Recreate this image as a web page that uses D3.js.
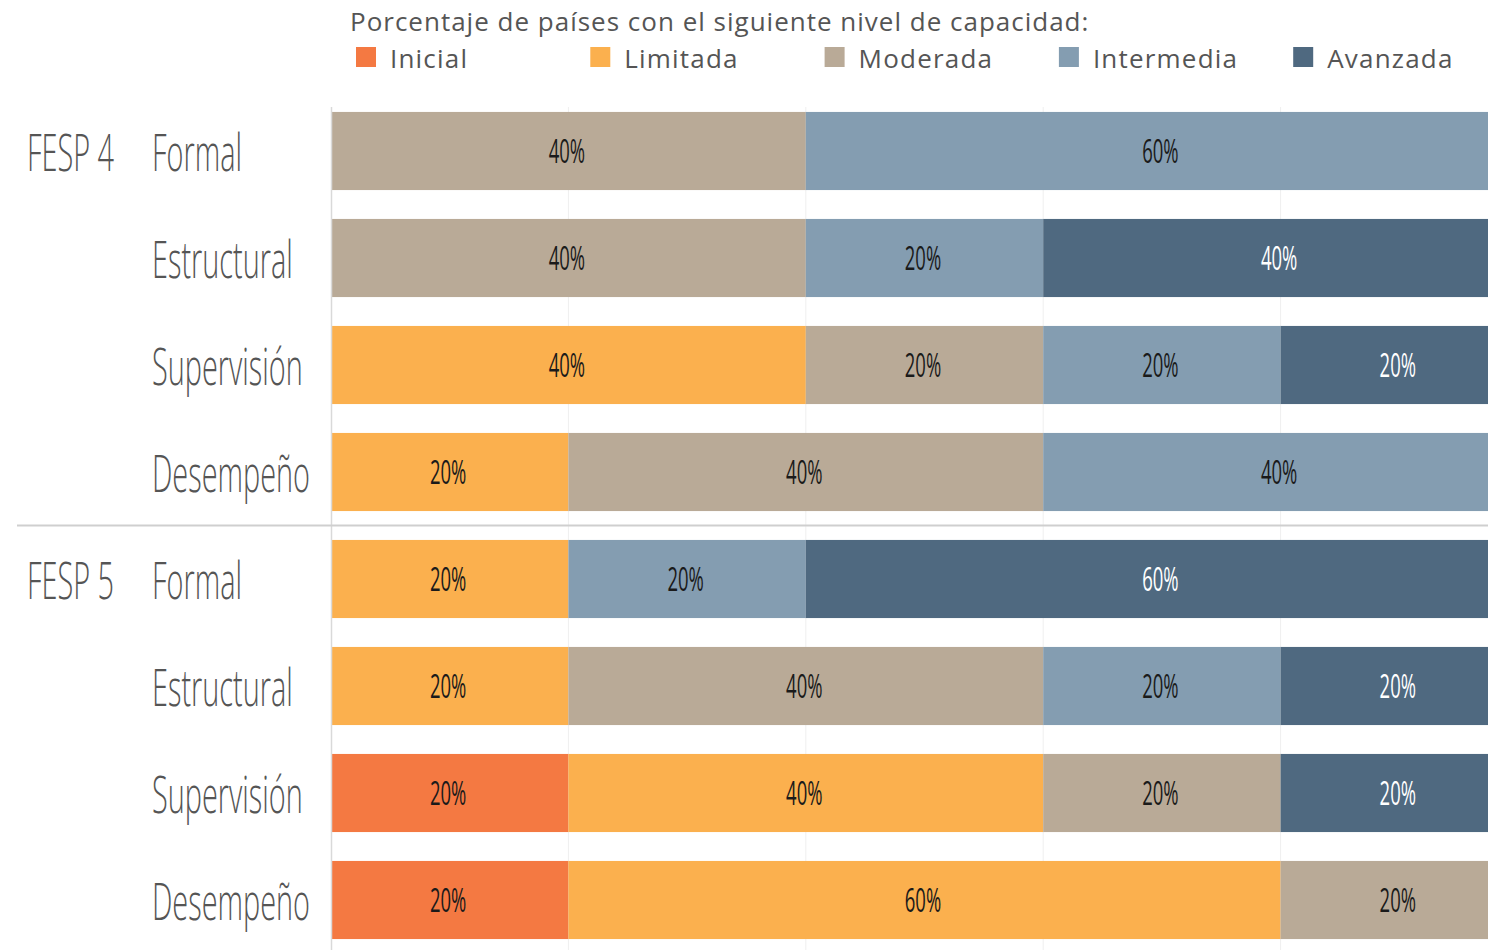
<!doctype html>
<html lang="es">
  <head>
    <meta charset="utf-8">
    <title>FESP 4 / FESP 5 - nivel de capacidad</title>
    <style>
      body { margin: 0; background: #fff; }
      svg { display: block; font-family: "Open Sans", sans-serif; }
    </style>
  </head>
  <body>
    <script src="https://cdn.jsdelivr.net/npm/d3@7"></script>
    <script>
      // rows, top to bottom
      var groups = ["FESP 4", "FESP 4", "FESP 4", "FESP 4", "FESP 5", "FESP 5", "FESP 5", "FESP 5"];
      var rows   = ["Formal", "Estructural", "Supervisión", "Desempeño", "Formal", "Estructural", "Supervisión", "Desempeño"];

      var levels = ["Inicial", "Limitada", "Moderada", "Intermedia", "Avanzada"];
      var colors = ["#f47942", "#fbb04e", "#b9aa97", "#849db1", "#4f6980"];

      // percentage of countries per level (one value per row)
      var inicial    = [0,  0,  0,  0,  0,  0, 20, 20];
      var limitada   = [0,  0, 40, 20, 20, 20, 40, 60];
      var moderada   = [40, 40, 20, 40, 0, 40, 20, 20];
      var intermedia = [60, 20, 20, 40, 20, 20, 0,  0];
      var avanzada   = [0, 40, 20,  0, 60, 20, 20,  0];

      var xTicks = [20, 40, 60, 80];

      var series = [inicial, limitada, moderada, intermedia, avanzada];
      var table = rows.map(function(r, i) {
        var o = { key: i, group: groups[i], row: r };
        levels.forEach(function(l, j) { o[l] = series[j][i]; });
        return o;
      });

      var W = 1488, H = 950;
      var svg = d3.select("body").append("svg")
        .attr("width", W)
        .attr("height", H);

      var x = d3.scaleLinear().domain([0, 100]).range([331, 1518]);
      var y = d3.scaleBand()
        .domain(table.map(function(d){ return d.key; }))
        .range([97.5, 953.5])
        .paddingInner(0.27)
        .paddingOuter(0.135);

      var color = d3.scaleOrdinal().domain(levels).range(colors);

      // grid
      svg.append("g").selectAll("line")
        .data(xTicks)
        .enter().append("line")
        .attr("x1", function(d){ return x(d); })
        .attr("x2", function(d){ return x(d); })
        .attr("y1", 107).attr("y2", H)
        .attr("stroke", "#efefef")
        .attr("stroke-width", 1);

      var stack = d3.stack().keys(levels);
      var layers = stack(table);

      var layer = svg.append("g").selectAll("g")
        .data(layers)
        .enter().append("g")
        .attr("fill", function(d){ return color(d.key); });

      layer.selectAll("rect")
        .data(function(d){ return d.filter(function(p){ return p[1] - p[0] > 0; }); })
        .enter().append("rect")
        .attr("x", function(d){ return x(d[0]); })
        .attr("width", function(d){ return x(d[1]) - x(d[0]); })
        .attr("y", function(d){ return y(d.data.key); })
        .attr("height", y.bandwidth());

      // value labels
      var lblSx = 0.56;
      layer.each(function(L) {
        d3.select(this).selectAll("text")
          .data(L.filter(function(p){ return p[1] - p[0] > 0; }))
          .enter().append("text")
          .attr("transform", function(d){
            return "translate(" + (x((d[0] + d[1]) / 2) - 1.5) + "," + (y(d.data.key) + y.bandwidth() / 2 + 12) + ") scale(" + lblSx + ",1)";
          })
          .attr("text-anchor", "middle")
          .attr("font-size", 33)
          .attr("fill", L.key === "Avanzada" ? "#ffffff" : "#1a1a1a")
          .text(function(d){ return (d[1] - d[0]) + "%"; });
      });

      // axis line and group separator
      svg.append("line")
        .attr("x1", 331.5).attr("x2", 331.5)
        .attr("y1", 107).attr("y2", H)
        .attr("stroke", "#d9d9d9").attr("stroke-width", 1.5);

      svg.append("line")
        .attr("x1", 17).attr("x2", W)
        .attr("y1", y(4) - (y.step() - y.bandwidth()) / 2)
        .attr("y2", y(4) - (y.step() - y.bandwidth()) / 2)
        .attr("stroke", "#cfcfcf").attr("stroke-width", 2);

      // row labels
      var rowSx = 0.555;
      svg.append("g").selectAll("text")
        .data(table)
        .enter().append("text")
        .attr("transform", function(d){
          return "translate(152," + (y(d.key) + y.bandwidth() / 2 + 20) + ") scale(" + rowSx + ",1)";
        })
        .attr("font-size", 52)
        .attr("font-weight", 300)
        .attr("fill", "#555")
        .text(function(d){ return d.row; });

      svg.append("g").selectAll("text")
        .data(table.filter(function(d, i){ return i === 0 || groups[i - 1] !== d.group; }))
        .enter().append("text")
        .attr("transform", function(d){
          return "translate(27," + (y(d.key) + y.bandwidth() / 2 + 20) + ") scale(" + rowSx + ",1)";
        })
        .attr("font-size", 52)
        .attr("font-weight", 300)
        .attr("fill", "#555")
        .text(function(d){ return d.group; });

      // legend
      svg.append("text")
        .attr("x", 350).attr("y", 31)
        .attr("font-size", 26)
        .attr("letter-spacing", 1)
        .attr("fill", "#555")
        .text("Porcentaje de países con el siguiente nivel de capacidad:");

      var leg = svg.append("g").selectAll("g")
        .data(levels)
        .enter().append("g")
        .attr("transform", function(d, i){ return "translate(" + (356 + i * 234.3) + ",47)"; });

      leg.append("rect")
        .attr("width", 20).attr("height", 20)
        .attr("fill", function(d){ return color(d); });

      leg.append("text")
        .attr("x", 34).attr("y", 21)
        .attr("font-size", 26)
        .attr("letter-spacing", 1.2)
        .attr("fill", "#555")
        .text(function(d){ return d; });
    </script>
  </body>
</html>
